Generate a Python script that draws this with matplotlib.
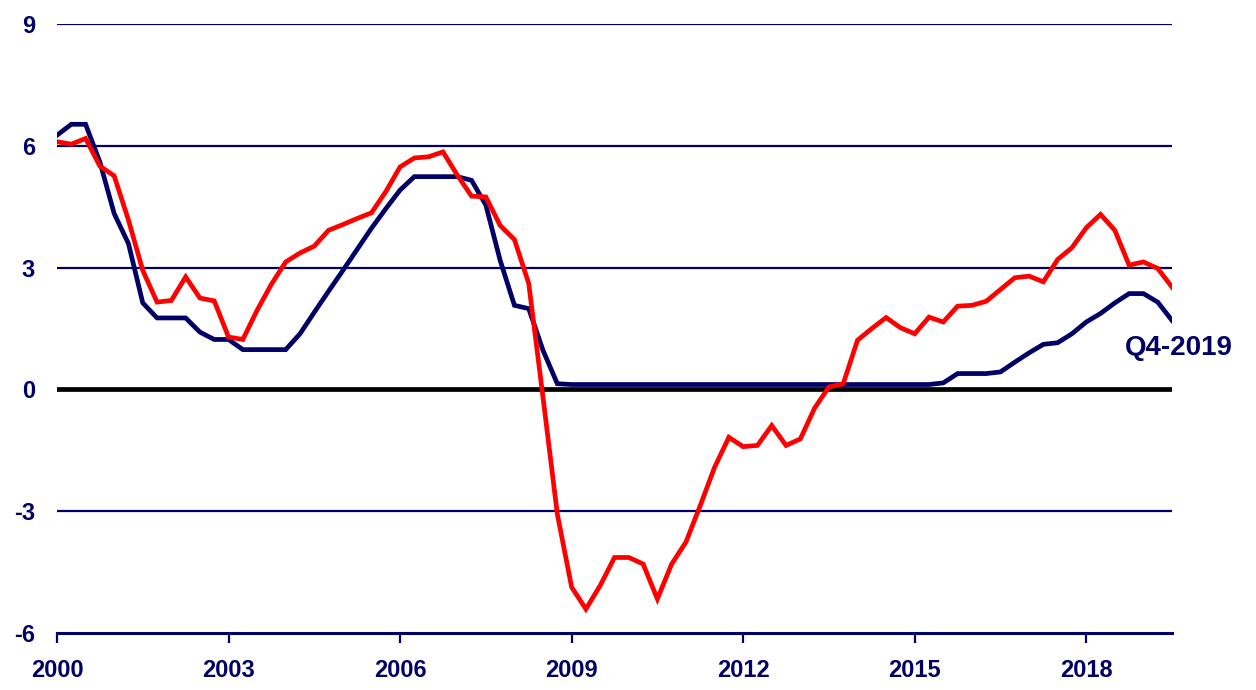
import matplotlib
matplotlib.use("Agg")
import matplotlib.pyplot as plt
import numpy as np

plt.rcParams['font.family'] = ['Liberation Sans', 'DejaVu Sans']

# Quarterly data, 2000Q1 onwards
start_year = 2000
blue_values = [
    6.26, 6.53, 6.53, 5.60, 4.33, 3.59, 2.13, 1.76, 1.76, 1.76,
    1.41, 1.23, 1.23, 0.98, 0.98, 0.98, 0.98, 1.37, 1.90, 2.42,
    2.93, 3.45, 3.97, 4.45, 4.91, 5.24, 5.24, 5.24, 5.24, 5.15,
    4.54, 3.18, 2.07, 1.99, 0.96, 0.14, 0.12, 0.12, 0.12, 0.12,
    0.12, 0.12, 0.12, 0.12, 0.12, 0.12, 0.12, 0.12, 0.12, 0.12,
    0.12, 0.12, 0.12, 0.12, 0.12, 0.12, 0.12, 0.12, 0.12, 0.12,
    0.12, 0.12, 0.16, 0.39, 0.39, 0.39, 0.43, 0.67, 0.90, 1.11,
    1.15, 1.37, 1.66, 1.87, 2.13, 2.36, 2.36, 2.15, 1.70,
]
red_values = [
    6.10, 6.04, 6.18, 5.50, 5.26, 4.17, 2.93, 2.15, 2.19, 2.77,
    2.25, 2.18, 1.29, 1.23, 1.95, 2.59, 3.14, 3.36, 3.53, 3.92,
    4.06, 4.21, 4.35, 4.87, 5.48, 5.70, 5.73, 5.85, 5.28, 4.76,
    4.74, 4.04, 3.69, 2.61, -0.20, -3.07, -4.87, -5.41, -4.83, -4.14,
    -4.14, -4.30, -5.16, -4.30, -3.76, -2.86, -1.92, -1.18, -1.41, -1.38,
    -0.89, -1.38, -1.22, -0.46, 0.06, 0.14, 1.21, 1.50, 1.77, 1.52,
    1.37, 1.78, 1.66, 2.05, 2.07, 2.17, 2.46, 2.75, 2.79, 2.65,
    3.20, 3.49, 3.98, 4.31, 3.92, 3.06, 3.14, 2.98, 2.52,
]
x_ticks = [2000, 2003, 2006, 2009, 2012, 2015, 2018]
y_ticks = [-6, -3, 0, 3, 6, 9]
grid_levels = [9, 6, 3, -3]
end_label = "Q4-2019"

navy = "#000066"
red = "#FF0000"

x_blue = start_year + np.arange(len(blue_values)) / 4.0
x_red = start_year + np.arange(len(red_values)) / 4.0

fig = plt.figure(figsize=(12.56, 6.9), dpi=100)
ax = fig.add_axes([57/1256, 1 - 633/690, (1172 - 57)/1256, (633 - 24)/690])

for g in grid_levels:
    ax.axhline(g, color=navy, lw=1.6, zorder=1)
ax.axhline(0, color="black", lw=3.4, zorder=2)

ax.plot(x_blue, blue_values, color=navy, lw=3.4, zorder=3, solid_joinstyle='miter')
ax.plot(x_red, red_values, color=red, lw=3.4, zorder=4, solid_joinstyle='miter')

ax.set_xlim(2000, 2019.5)
ax.set_ylim(-6, 9)
ax.set_xticks(x_ticks)
ax.set_xticklabels([str(t) for t in x_ticks])
ax.set_yticks(y_ticks)
ax.set_yticklabels([str(t) for t in y_ticks])

for s in ['top', 'right', 'left']:
    ax.spines[s].set_visible(False)
ax.spines['bottom'].set_color(navy)
ax.spines['bottom'].set_linewidth(2.2)

ax.tick_params(axis='x', direction='out', length=7, width=1.6, color=navy,
               pad=12, labelsize=17, labelcolor=navy)
ax.tick_params(axis='y', length=0, pad=16, labelsize=17, labelcolor=navy)
for lab in ax.get_xticklabels() + ax.get_yticklabels():
    lab.set_fontweight('bold')

ax.text(2018.68, 1.02, end_label, color=navy, fontsize=20, fontweight='bold',
        ha='left', va='center', clip_on=False)

fig.savefig("out.png", dpi=100)
